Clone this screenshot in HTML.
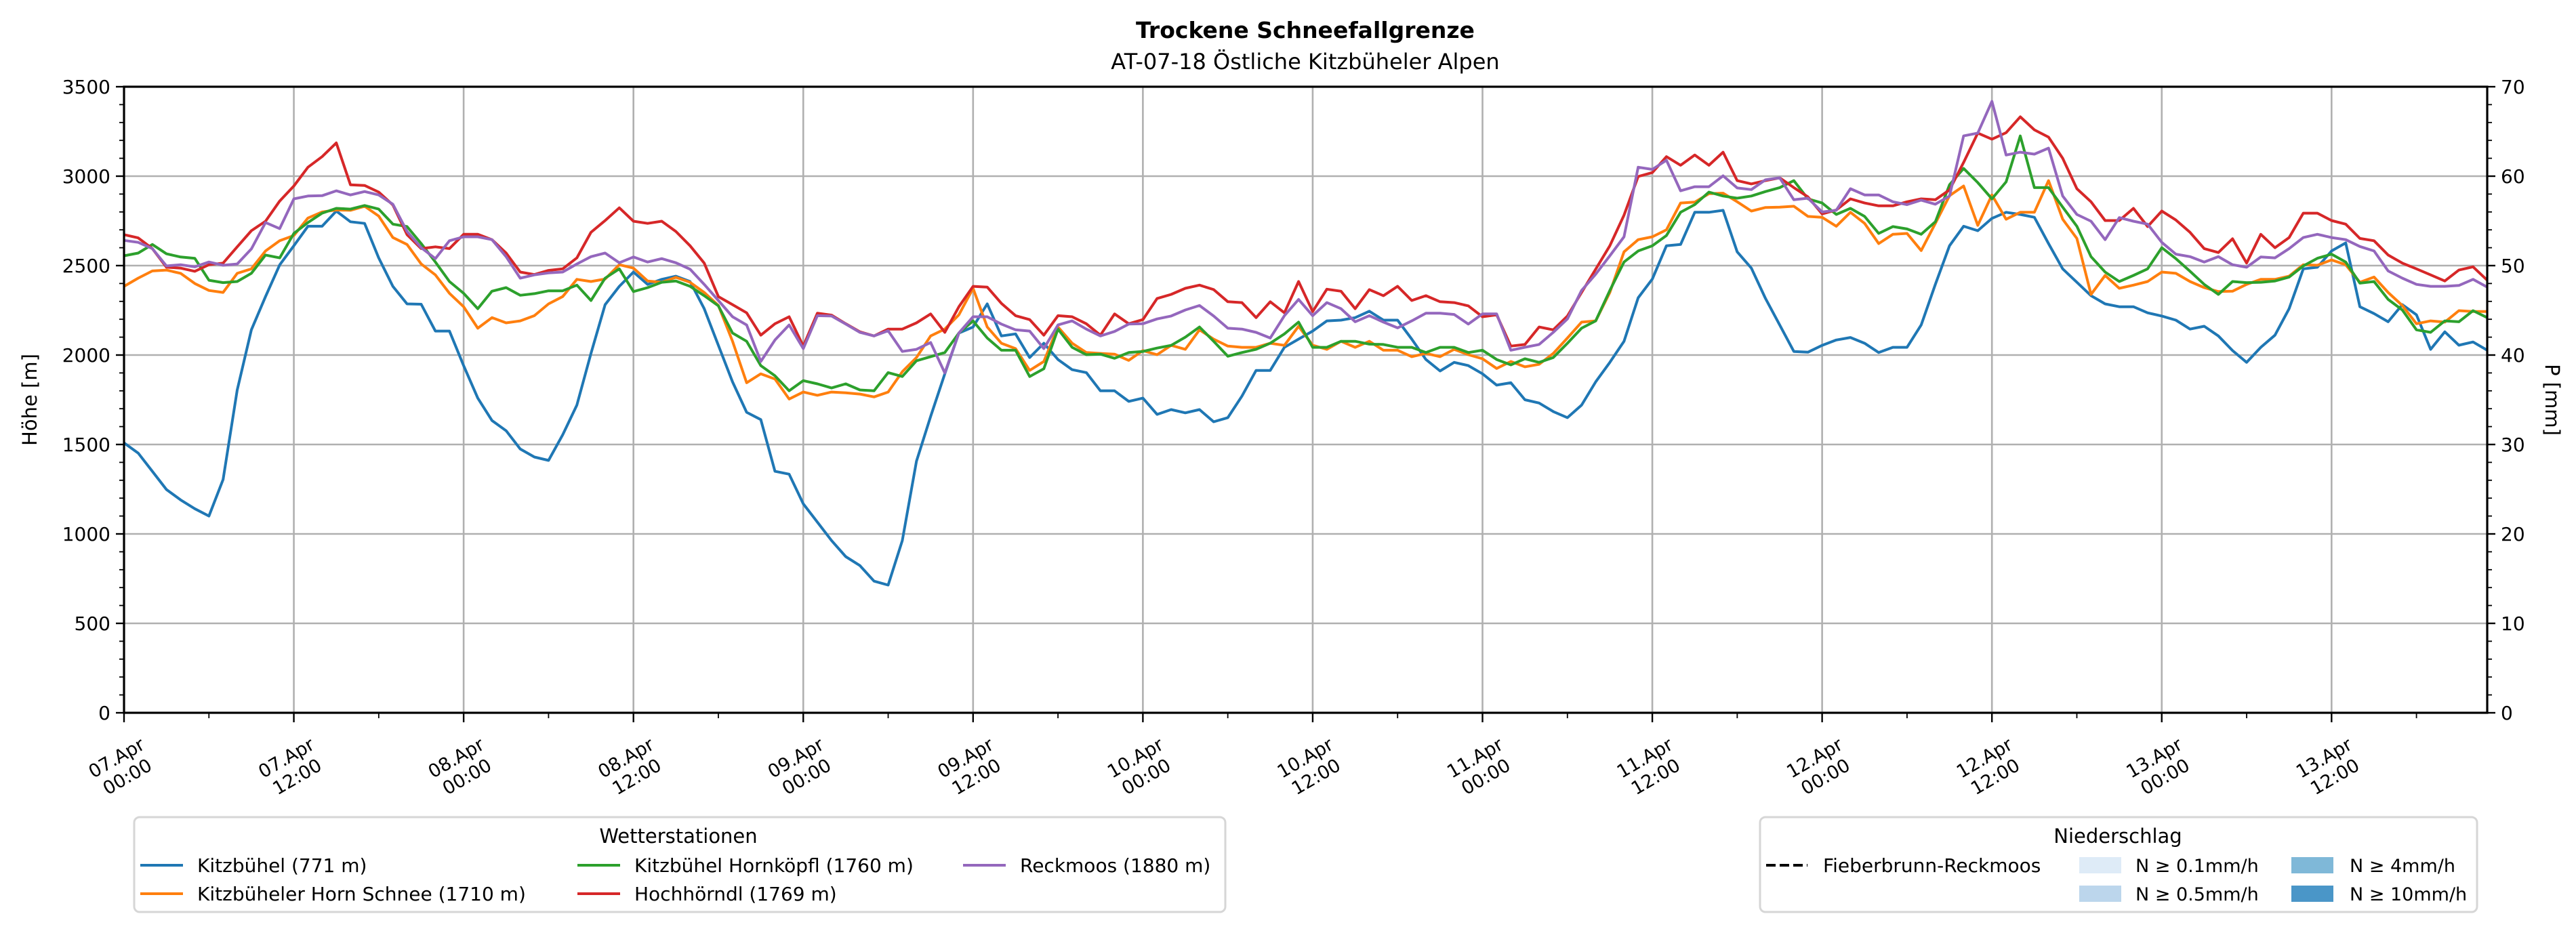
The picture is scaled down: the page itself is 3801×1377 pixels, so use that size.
<!DOCTYPE html>
<html><head><meta charset="utf-8">
<style>
html,body{margin:0;padding:0;background:#fff;}
svg{display:block;font-family:"DejaVu Sans","Liberation Sans",sans-serif;}
</style></head>
<body>
<svg id="chart" width="3801" height="1377" viewBox="0 0 3801 1377" xmlns="http://www.w3.org/2000/svg">
  <rect width="3801" height="1377" fill="#fff"/>
  <text x="1926" y="56" text-anchor="middle" font-size="33" font-weight="bold">Trockene Schneefallgrenze</text>
  <text x="1926" y="102" text-anchor="middle" font-size="32">AT-07-18 Östliche Kitzbüheler Alpen</text>
  <g id="grid"></g>
  <g id="series"></g>
  <g id="axes"></g>
  <text transform="translate(54,590) rotate(-90)" text-anchor="middle" font-size="29">Höhe [m]</text>
  <text transform="translate(3756,590) rotate(90)" text-anchor="middle" font-size="29">P [mm]</text>

  <g>
    <rect x="198" y="1206" width="1610" height="140" rx="8" fill="#fff" stroke="#d6d6d6" stroke-width="3"/>
    <text x="1001" y="1244" text-anchor="middle" font-size="29">Wetterstationen</text>
    <g><line x1="207" y1="1277" x2="270" y2="1277" stroke="#1f77b4" stroke-width="4"/><text x="291" y="1287" font-size="28">Kitzbühel (771 m)</text></g>
    <g><line x1="207" y1="1319" x2="270" y2="1319" stroke="#ff7f0e" stroke-width="4"/><text x="291" y="1329" font-size="28">Kitzbüheler Horn Schnee (1710 m)</text></g>
    <g><line x1="852" y1="1277" x2="915" y2="1277" stroke="#2ca02c" stroke-width="4"/><text x="936" y="1287" font-size="28">Kitzbühel Hornköpfl (1760 m)</text></g>
    <g><line x1="852" y1="1319" x2="915" y2="1319" stroke="#d62728" stroke-width="4"/><text x="936" y="1329" font-size="28">Hochhörndl (1769 m)</text></g>
    <g><line x1="1421" y1="1277" x2="1484" y2="1277" stroke="#9467bd" stroke-width="4"/><text x="1505" y="1287" font-size="28">Reckmoos (1880 m)</text></g>
  </g>

  <g>
    <rect x="2597" y="1206" width="1058" height="140" rx="8" fill="#fff" stroke="#d6d6d6" stroke-width="3"/>
    <text x="3125" y="1244" text-anchor="middle" font-size="29">Niederschlag</text>
    <g><line x1="2606" y1="1277" x2="2667" y2="1277" stroke="#000" stroke-width="4" stroke-dasharray="14,6"/><text x="2690" y="1287" font-size="28">Fieberbrunn-Reckmoos</text></g>
    <g><rect x="3068" y="1265" width="62" height="24" fill="#deebf7"/><text x="3151" y="1287" font-size="27">N ≥ 0.1mm/h</text></g>
    <g><rect x="3068" y="1307" width="62" height="24" fill="#bcd6ec"/><text x="3151" y="1329" font-size="27">N ≥ 0.5mm/h</text></g>
    <g><rect x="3381" y="1265" width="62" height="24" fill="#7fb8d8"/><text x="3467" y="1287" font-size="27">N ≥ 4mm/h</text></g>
    <g><rect x="3381" y="1307" width="62" height="24" fill="#4a96c8"/><text x="3467" y="1329" font-size="27">N ≥ 10mm/h</text></g>
  </g>
</svg>
<script>
const xTickLabels = ["07.Apr|00:00","07.Apr|12:00","08.Apr|00:00","08.Apr|12:00","09.Apr|00:00","09.Apr|12:00","10.Apr|00:00","10.Apr|12:00","11.Apr|00:00","11.Apr|12:00","12.Apr|00:00","12.Apr|12:00","13.Apr|00:00","13.Apr|12:00"];
const yTicks = [0,500,1000,1500,2000,2500,3000,3500];
const y2Ticks = [0,10,20,30,40,50,60,70];
const seriesNames = ["kitzbuehel","kitzbueheler-horn","hornkoepfl","hochhoerndl","reckmoos"];
const kitzbuehel = [1509,1452,1350,1248,1190,1141,1100,1304,1804,2141,2327,2504,2611,2720,2720,2805,2745,2736,2543,2384,2286,2284,2134,2134,1941,1759,1634,1577,1475,1430,1411,1554,1720,2009,2282,2384,2464,2395,2423,2441,2411,2259,2054,1850,
1680,1639,1350,1334,1168,1066,963,873,823,736,714,963,1407,1657,1895,2123,2157,2286,2107,2118,1986,2066,1975,1918,1902,1800,1800,1741,1759,1668,1695,1677,1695,1627,1650,1770,1914,1914,2043,2089,
2134,2191,2195,2209,2245,2195,2195,2089,1975,1911,1959,1941,1895,1832,1845,1750,1732,1684,1650,1720,1850,1959,2077,2320,2425,2611,2618,2798,2798,2809,2577,2486,2316,2168,2020,2016,2054,2084,2098,2066,2014,2043,
2043,2168,2395,2611,2720,2695,2764,2798,2786,2770,2623,2482,2407,2332,2286,2270,2270,2236,2218,2195,2145,2161,2107,2025,1959,2043,2111,2259,2482,2491,2582,2627,2270,2232,2186,2282,2225,2032,2130,2055,2073,2027];
const kitzbuehelerHorn = [2384,2430,2470,2475,2457,2400,2361,2350,2457,2482,2582,2639,2668,2766,2800,2811,2809,2832,2777,2657,2618,2509,2448,2345,2270,2150,2209,2180,2191,2220,2286,2327,2423,2411,2425,2505,2486,2414,2407,2434,2407,2350,2277,2077,
1845,1895,1866,1754,1793,1775,1793,1789,1782,1766,1793,1907,1986,2107,2145,2225,2373,2157,2066,2036,1914,1964,2157,2066,2014,2009,2005,1970,2025,2002,2054,2032,2141,2089,2050,2043,2043,2066,2054,2161,
2055,2032,2077,2043,2077,2027,2027,1991,2009,1991,2032,2002,1979,1925,1964,1934,1948,2009,2095,2184,2191,2350,2577,2645,2661,2700,2850,2855,2902,2905,2857,2805,2825,2827,2832,2775,2770,2720,2798,2736,2623,2675,
2680,2584,2736,2891,2945,2725,2895,2759,2798,2798,2975,2759,2652,2339,2445,2373,2391,2411,2464,2457,2411,2377,2355,2357,2395,2423,2423,2441,2505,2502,2532,2505,2407,2436,2350,2277,2175,2191,2184,2248,2243,2243];
const hornkoepfl = [2555,2570,2618,2566,2548,2541,2418,2405,2411,2457,2559,2543,2680,2741,2793,2820,2816,2836,2816,2732,2718,2623,2520,2411,2345,2259,2357,2377,2334,2343,2359,2359,2391,2305,2430,2482,2355,2377,2407,2414,2384,2332,2275,2123,
2077,1941,1884,1800,1857,1839,1816,1839,1805,1800,1902,1880,1968,1991,2014,2123,2191,2095,2027,2027,1880,1923,2145,2043,2002,2005,1982,2014,2020,2039,2054,2100,2157,2077,1993,2014,2032,2066,2118,2184,
2043,2043,2077,2077,2061,2059,2043,2043,2014,2043,2043,2014,2027,1975,1945,1979,1959,1986,2066,2150,2191,2361,2520,2582,2611,2668,2798,2841,2911,2889,2877,2889,2914,2936,2975,2873,2850,2786,2820,2775,2680,2718,
2705,2675,2745,2952,3043,2964,2873,2968,3225,2936,2936,2827,2720,2550,2464,2411,2445,2482,2600,2539,2468,2395,2339,2411,2405,2407,2414,2436,2498,2541,2564,2520,2402,2411,2311,2252,2141,2127,2191,2186,2248,2209];
const hochhoerndl = [2673,2655,2595,2491,2486,2468,2505,2514,2605,2695,2748,2861,2945,3050,3109,3186,2952,2948,2911,2839,2673,2595,2605,2595,2675,2675,2645,2570,2464,2450,2473,2482,2543,2686,2752,2823,2748,2736,2748,2691,2611,2514,2327,2282,
2236,2111,2175,2214,2050,2234,2223,2175,2130,2107,2145,2145,2180,2230,2127,2270,2384,2380,2289,2220,2198,2111,2220,2214,2175,2111,2230,2175,2198,2316,2339,2373,2391,2366,2298,2293,2209,2298,2236,2411,
2243,2368,2357,2259,2366,2332,2384,2305,2332,2298,2293,2275,2214,2225,2050,2059,2157,2141,2218,2350,2480,2611,2782,2998,3020,3109,3061,3118,3061,3134,2975,2957,2975,2991,2936,2884,2789,2811,2873,2850,2834,2834,
2857,2873,2868,2923,3077,3241,3207,3243,3332,3259,3218,3100,2930,2857,2752,2752,2820,2718,2805,2755,2686,2595,2573,2650,2514,2675,2600,2657,2793,2793,2752,2732,2652,2639,2559,2514,2482,2448,2414,2475,2493,2418];
const reckmoos = [2641,2630,2595,2498,2505,2493,2520,2502,2509,2593,2741,2707,2873,2889,2891,2918,2895,2914,2895,2843,2691,2600,2539,2639,2661,2661,2645,2550,2430,2448,2459,2464,2509,2550,2570,2516,2548,2520,2539,2516,2480,2395,2305,2214,
2168,1964,2084,2168,2036,2220,2218,2173,2127,2107,2136,2020,2032,2070,1900,2123,2214,2214,2173,2141,2134,2036,2168,2191,2145,2107,2132,2173,2175,2202,2218,2252,2277,2218,2150,2145,2127,2095,2220,2311,
2220,2293,2259,2186,2220,2184,2152,2191,2234,2234,2227,2173,2230,2230,2027,2043,2059,2127,2202,2361,2452,2555,2661,3050,3038,3089,2918,2941,2941,3002,2934,2925,2980,2991,2868,2877,2800,2809,2930,2895,2895,2857,
2841,2866,2843,2889,3225,3241,3418,3118,3134,3123,3157,2889,2786,2748,2645,2768,2748,2732,2630,2564,2550,2520,2550,2505,2491,2548,2543,2595,2657,2675,2657,2645,2607,2582,2470,2430,2395,2384,2384,2389,2423,2380];
const seriesColors = ["#1f77b4","#ff7f0e","#2ca02c","#d62728","#9467bd"];

const NS="http://www.w3.org/2000/svg";
const L=183,R=3670,T=128,B=1052,HMAX=167,YMAX=3500,Y2MAX=70;
const xs=h=>L+(R-L)*h/HMAX;
const ys=v=>B-(B-T)*v/YMAX;
const ys2=v=>B-(B-T)*v/Y2MAX;
function mk(tag,attrs,parent){const e=document.createElementNS(NS,tag);for(const k in attrs)e.setAttribute(k,attrs[k]);parent.appendChild(e);return e;}
const grid=document.getElementById('grid'),axes=document.getElementById('axes'),ser=document.getElementById('series');

yTicks.forEach(v=>{
  const g=mk('line',{x1:L,x2:R,y1:ys(v),y2:ys(v),stroke:'#b0b0b0','stroke-width':2.6},grid);
  
  
  mk('line',{x1:L-12,x2:L,y1:ys(v),y2:ys(v),stroke:'#000','stroke-width':2.4},axes);
  const t=mk('text',{x:L-20,y:ys(v)+10,'text-anchor':'end','font-size':28},axes);
  t.textContent=v;
  
  
});
for(let v=0;v<=YMAX;v+=100){ if(v%500) mk('line',{x1:L-7,x2:L,y1:ys(v),y2:ys(v),stroke:'#000','stroke-width':1.8},axes); }
y2Ticks.forEach(v=>{
  mk('line',{x1:R,x2:R+12,y1:ys2(v),y2:ys2(v),stroke:'#000','stroke-width':2.4},axes);
  const t=mk('text',{x:R+20,y:ys2(v)+10,'font-size':28},axes);
  t.textContent=v;
  
  
});
for(let v=0;v<=Y2MAX;v+=2){ if(v%10) mk('line',{x1:R,x2:R+7,y1:ys2(v),y2:ys2(v),stroke:'#000','stroke-width':1.8},axes); }
xTickLabels.forEach((lab,i)=>{
  const x=xs(i*12);
  const g=mk('line',{x1:x,x2:x,y1:T,y2:B,stroke:'#b0b0b0','stroke-width':2.6},grid);
  
  
  mk('line',{x1:x,x2:x,y1:B,y2:B+14,stroke:'#000','stroke-width':2.4},axes);
  const parts=lab.split('|');
  const t=mk('text',{transform:`translate(${x-4},1131) rotate(-30)`,'text-anchor':'middle','font-size':27},axes);
  
  
  const a=mk('tspan',{x:0,y:-5},t); a.textContent=parts[0];
  const b=mk('tspan',{x:0,y:27},t); b.textContent=parts[1];
});
for(let h=6;h<=HMAX;h+=12){ mk('line',{x1:xs(h),x2:xs(h),y1:B,y2:B+8,stroke:'#000','stroke-width':1.8},axes); }
const frame=mk('rect',{x:L,y:T,width:R-L,height:B-T,fill:'none',stroke:'#000','stroke-width':3.2},axes);



const allSeries=[kitzbuehel,kitzbuehelerHorn,hornkoepfl,hochhoerndl,reckmoos];
allSeries.forEach((arr,si)=>{
  const d=arr.map((v,h)=>(h?'L':'M')+xs(h).toFixed(1)+','+ys(v).toFixed(1)).join('');
  const p=mk('path',{d:d,fill:'none',stroke:seriesColors[si],'stroke-width':4,'stroke-linejoin':'round'},ser);
  
  
});
</script>
</body></html>
